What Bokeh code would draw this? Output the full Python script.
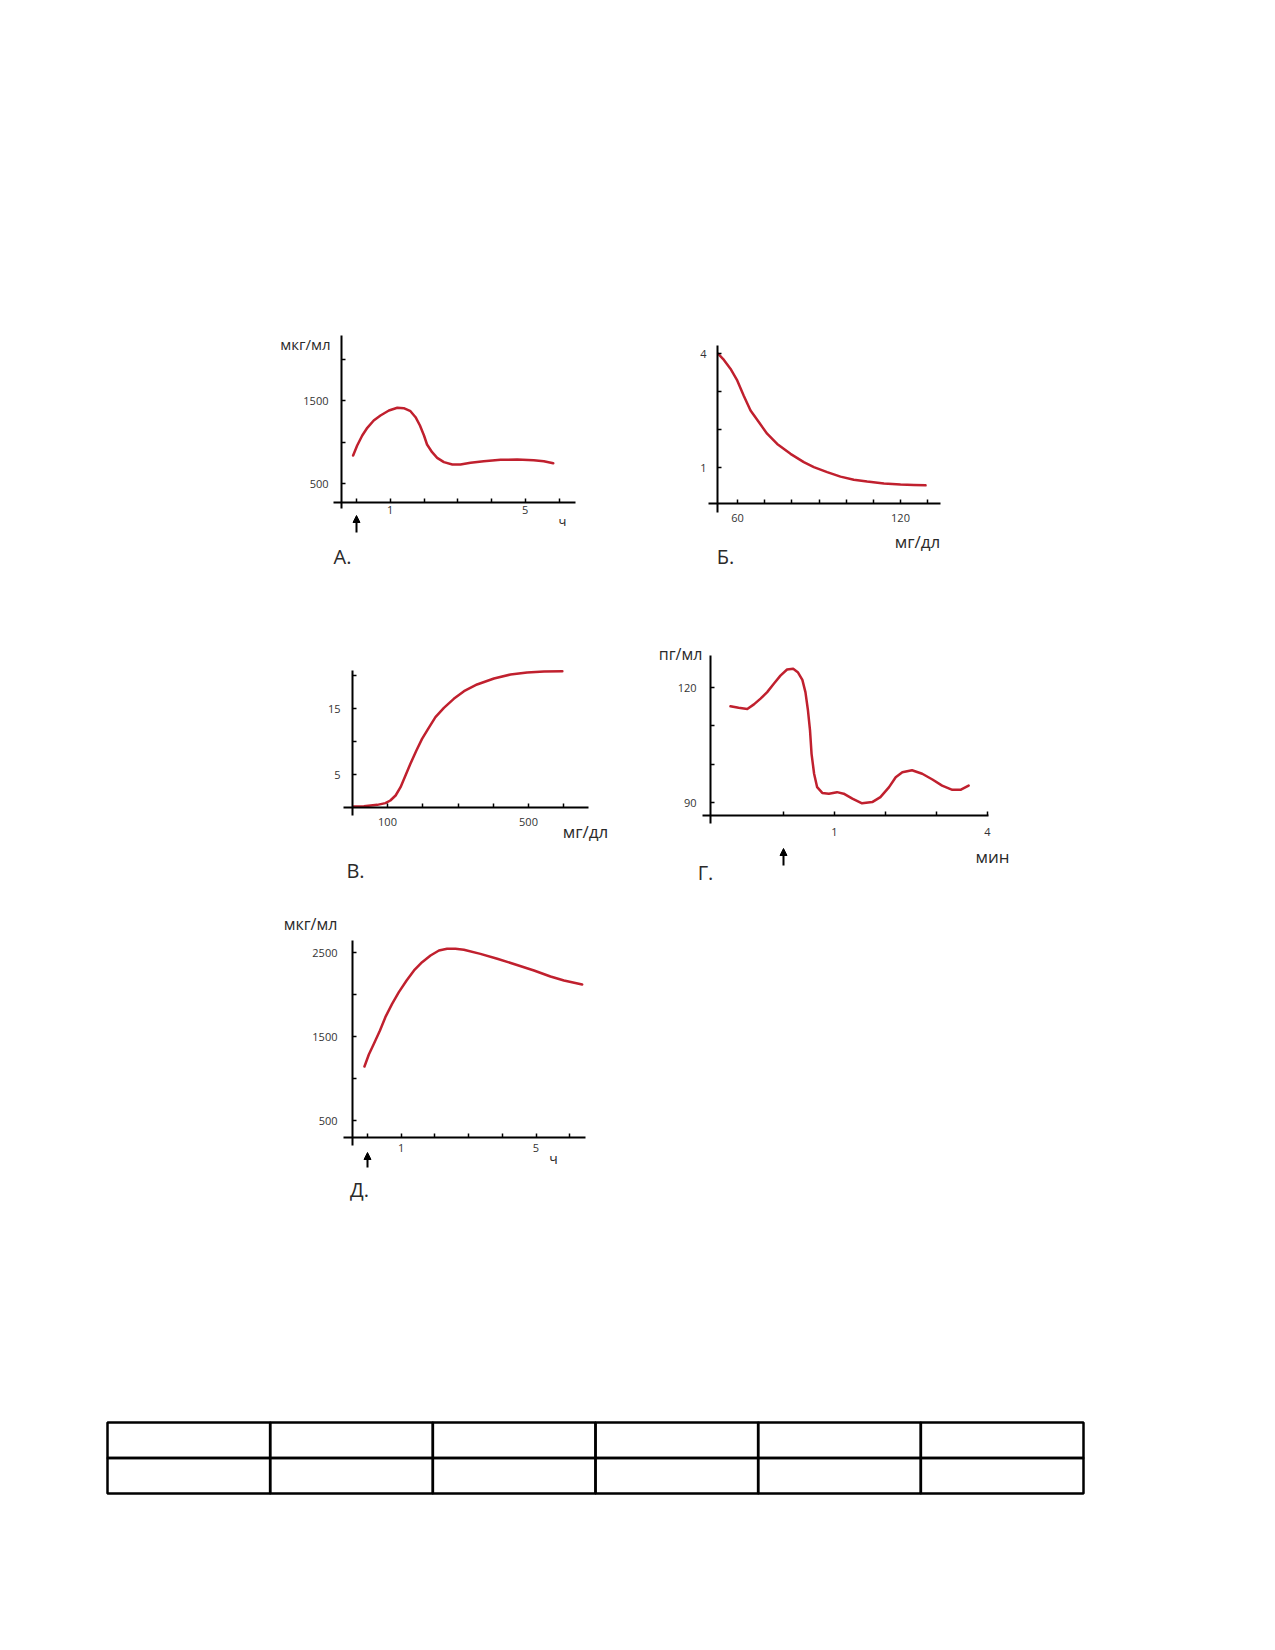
from bokeh.plotting import figure
from bokeh.models import LinearAxis, FixedTicker, Arrow, NormalHead, Range1d, Spacer
from bokeh.layouts import column, row
from bokeh.embed import file_html
from bokeh.resources import INLINE
from bokeh.core.properties import value

FONT = "Open Sans"
RED = "#c0202e"
INK = "#2a2a2a"

# ---------------- data ----------------
# Panel А (мкг/мл vs ч)
a_time = [-0.10, 0.02, 0.17, 0.32, 0.51, 0.71, 0.96, 1.21, 1.40, 1.60, 1.75, 1.88, 2.00, 2.09,
          2.24, 2.39, 2.59, 2.84, 3.08, 3.38, 3.77, 4.27, 4.76, 5.25, 5.55, 5.83]
a_conc = [837, 958, 1078, 1171, 1259, 1319, 1380, 1412, 1407, 1371, 1299, 1199, 1078, 970,
          877, 809, 757, 729, 729, 749, 769, 785, 789, 781, 769, 745]
a_xticks, a_xminor = [1, 5], [0, 2, 3, 4, 6]
a_yticks, a_yminor = [500, 1500], [1000, 2000]

# Panel Б (vs мг/дл)
b_glucose = [52.9, 55.0, 57.4, 59.9, 62.3, 64.8, 67.9, 70.9, 74.6, 79.5, 84.4, 88.1, 93.0, 97.9,
             102.8, 107.7, 113.9, 120.0, 124.9, 129.2]
b_level = [3.99, 3.83, 3.60, 3.29, 2.89, 2.50, 2.19, 1.89, 1.62, 1.36, 1.14, 1.01, 0.88, 0.76,
           0.68, 0.63, 0.58, 0.55, 0.54, 0.53]
b_xticks, b_xminor = [60, 120], [70, 80, 90, 100, 110, 130]
b_yticks, b_yminor = [1, 4], [2, 3]

# Panel В (vs мг/дл)
c_glucose = [4, 33, 71, 94, 108, 123, 137, 151, 165, 182, 198, 217, 236, 260, 288, 317, 354,
             402, 449, 496, 544, 596]
c_level = [0.15, 0.20, 0.40, 0.66, 1.06, 1.82, 3.08, 4.85, 6.62, 8.64, 10.40, 12.07, 13.69,
           15.10, 16.47, 17.63, 18.64, 19.55, 20.15, 20.45, 20.61, 20.66]
c_xticks, c_xminor = [100, 500], [200, 300, 400, 600]
c_yticks, c_yminor = [5, 15], [10, 20]

# Panel Г (пг/мл vs мин)
d_time = [-1.04, -0.88, -0.71, -0.58, -0.45, -0.32, -0.19, -0.06, 0.07, 0.19, 0.28, 0.37, 0.43,
          0.48, 0.52, 0.55, 0.60, 0.66, 0.76, 0.89, 1.05, 1.18, 1.35, 1.54, 1.74, 1.90, 2.07,
          2.20, 2.33, 2.52, 2.72, 2.92, 3.11, 3.31, 3.47, 3.63]
d_level = [115.1, 114.7, 114.4, 115.6, 117.1, 118.8, 121.0, 123.1, 124.7, 124.9, 124.0, 122.0,
           118.8, 114.0, 108.8, 102.7, 97.5, 94.0, 92.5, 92.3, 92.7, 92.3, 91.0, 89.8, 90.1,
           91.4, 94.0, 96.6, 97.9, 98.4, 97.5, 96.0, 94.4, 93.3, 93.3, 94.4]
d_xticks, d_xminor = [1, 4], [0, 2, 3]
d_yticks, d_yminor = [90, 120], [100, 110]

# Panel Д (мкг/мл vs ч)
e_time = [-0.09, 0.04, 0.19, 0.37, 0.53, 0.73, 0.93, 1.16, 1.38, 1.62, 1.87, 2.12, 2.36, 2.61,
          2.86, 3.35, 3.85, 4.39, 4.94, 5.43, 5.83, 6.37]
e_conc = [1143, 1286, 1413, 1571, 1730, 1889, 2028, 2167, 2286, 2385, 2464, 2524, 2544, 2544,
          2532, 2484, 2425, 2357, 2286, 2214, 2167, 2119]
e_xticks, e_xminor = [1, 5], [0, 2, 3, 4, 6]
e_yticks, e_yminor = [500, 1500, 2500], [1000, 2000]

# Empty answer table
table_columns = [0, 1, 2, 3, 4, 5]
table_rows = [0, 1]


# ---------------- layout helpers ----------------
class Cal:
    """pixel <-> data calibration of a panel (page pixel coordinates)"""
    def __init__(self, X0, x0, kx, Y0, y0, ky):
        self.X0, self.x0, self.kx, self.Y0, self.y0, self.ky = X0, x0, kx, Y0, y0, ky

    def x(self, X):
        return self.x0 + (X - self.X0) / self.kx

    def y(self, Y):
        return self.y0 + (self.Y0 - Y) / self.ky


def make_panel(cal, frame, ml, mb, yaxis, xaxis, yt, ytm, xt, xtm, ystand, xstand,
               xs, ys, texts, arrow=None):
    L, T, R, B = frame
    p = figure(frame_width=R - L, frame_height=B - T,
               x_range=Range1d(cal.x(L), cal.x(R)), y_range=Range1d(cal.y(B), cal.y(T)),
               x_axis_type=None, y_axis_type=None, toolbar_location=None,
               output_backend="svg", min_border_left=ml, min_border_right=0,
               min_border_top=0, min_border_bottom=mb, outline_line_color=None,
               background_fill_color="white", border_fill_color="white")
    yX, yB, yT = yaxis
    xY, xL, xR = xaxis
    common = dict(axis_line_color="black", axis_line_width=2,
                  major_tick_line_color="black", major_tick_line_width=1.5,
                  minor_tick_line_color="black", minor_tick_line_width=1.5,
                  major_tick_in=4, major_tick_out=0, minor_tick_in=4, minor_tick_out=0,
                  major_label_text_font=FONT, major_label_text_font_size="11px",
                  major_label_text_color="#333333")
    ya = LinearAxis(fixed_location=cal.x(yX), bounds=(cal.y(yB), cal.y(yT)),
                    ticker=FixedTicker(ticks=yt, minor_ticks=ytm),
                    major_label_standoff=ystand, **common)
    p.add_layout(ya, "left")
    xa = LinearAxis(fixed_location=cal.y(xY), bounds=(cal.x(xL), cal.x(xR)),
                    ticker=FixedTicker(ticks=xt, minor_ticks=xtm),
                    major_label_standoff=xstand, **common)
    p.add_layout(xa, "below")
    p.line(xs, ys, line_color=RED, line_width=2.5, line_join="round", line_cap="round")
    for txt, X, Y, size in texts:
        p.text(x=[cal.x(X)], y=[cal.y(Y)], text=[txt], text_font=value(FONT),
               text_font_size=value(size), text_color=INK, text_align="center",
               text_baseline="middle")
    if arrow is not None:
        aX, aY0, aY1 = arrow
        p.add_layout(Arrow(x_start=cal.x(aX), y_start=cal.y(aY0), x_end=cal.x(aX),
                           y_end=cal.y(aY1), line_width=2, line_color="black",
                           end=NormalHead(size=7, fill_color="black", line_color="black")))
    return p


calA = Cal(356, 0, 33.75, 483, 500, 0.083)
figA = make_panel(calA, (270, 318, 605, 572), 60, 28, (341, 508, 335), (502, 333, 575),
                  a_yticks, a_yminor, a_xticks, a_xminor, 13, 3, a_time, a_conc,
                  [("мкг/мл", 305, 343, "15px"), ("ч", 562, 520, "13px"), ("А.", 342, 556, "20px")],
                  arrow=(356, 532, 515))

calB = Cal(737, 60, 2.717, 505, 0, 38)
figB = make_panel(calB, (656, 318, 1000, 572), 44, 28, (717, 512, 345), (503, 708, 940),
                  b_yticks, b_yminor, b_xticks, b_xminor, 11, 10, b_glucose, b_level,
                  [("мг/дл", 917, 541, "17px"), ("Б.", 725, 556, "20px")])

calC = Cal(351.75, 0, 0.3525, 807, 0, 6.6)
figC = make_panel(calC, (270, 600, 612, 884), 60, 30, (352, 815, 670), (807, 343, 588),
                  c_yticks, c_yminor, c_xticks, c_xminor, 12, 10, c_glucose, c_level,
                  [("мг/дл", 585, 831, "17px"), ("В.", 355, 870, "20px")])

calD = Cal(783, 0, 51, 802, 90, 3.833)
figD = make_panel(calD, (656, 600, 1015, 885), 44, 35, (710, 823, 655), (815, 702, 988),
                  d_yticks, d_yminor, d_xticks, d_xminor, 14, 12, d_time, d_level,
                  [("пг/мл", 680, 653, "16px"), ("мин", 992, 856, "17px"), ("Г.", 705, 872, "20px")],
                  arrow=(783, 865, 848))

calE = Cal(367, 0, 33.7, 1120, 500, 0.084)
figE = make_panel(calE, (270, 914, 600, 1205), 60, 30, (352, 1145, 940), (1137, 343, 585),
                  e_yticks, e_yminor, e_xticks, e_xminor, 15, 6, e_time, e_conc,
                  [("мкг/мл", 310, 923, "16px"), ("ч", 553, 1158, "14px"), ("Д.", 359, 1189, "20px")],
                  arrow=(367, 1167, 1152))

# table: cells 0..6 x 0..2, page box 107..1083 x 1422..1493
tk = 976 / 6.0
tv = 71 / 2.0
tab = figure(frame_width=985, frame_height=79,
             x_range=Range1d(-4 / tk, 6 + 5 / tk), y_range=Range1d(-4 / tv, 2 + 4 / tv),
             x_axis_type=None, y_axis_type=None, toolbar_location=None, output_backend="svg",
             min_border=0, outline_line_color=None)
lefts, rights, bottoms, tops = [], [], [], []
for r in table_rows:
    for c in table_columns:
        lefts.append(c)
        rights.append(c + 1)
        bottoms.append(r)
        tops.append(r + 1)
tab.quad(left=lefts, right=rights, bottom=bottoms, top=tops, fill_color=None,
         line_color="black", line_width=2.5)

left_col = column(figA, figC, figE)
right_col = column(figB, figD)
page = column(Spacer(height=318),
              row(Spacer(width=210), left_col, right_col),
              Spacer(height=183),
              row(Spacer(width=103), tab))

open("out.html", "w").write(file_html(page, INLINE))
